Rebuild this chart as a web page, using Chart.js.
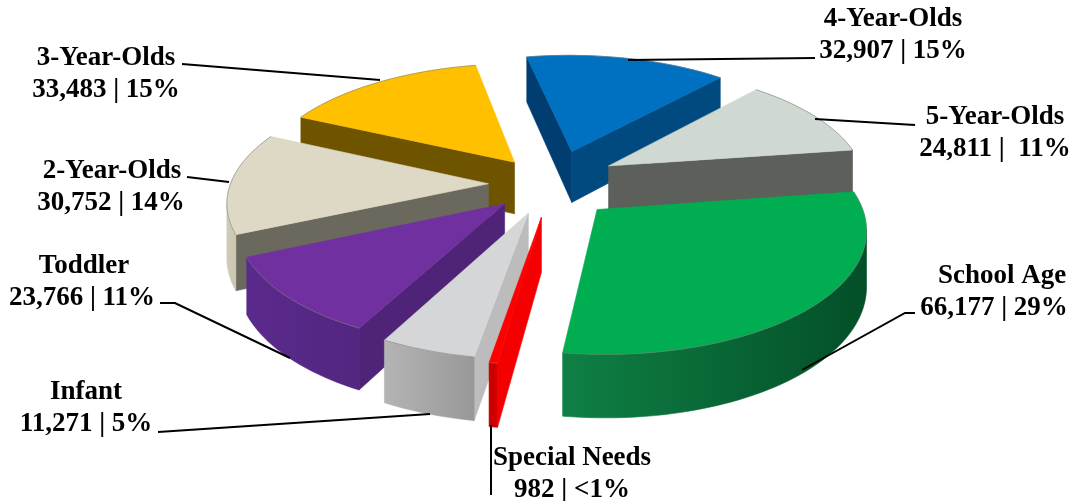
<!DOCTYPE html>
<html>
<head>
<meta charset="utf-8">
<title>Children served by age group</title>
<script src="https://cdn.jsdelivr.net/npm/chart.js@4/dist/chart.umd.min.js"></script>
<style>
  html, body { margin: 0; padding: 0; background: #fff; }
  canvas { display: block; }
</style>
</head>
<body>
<canvas id="pie" width="1074" height="501"></canvas>
<script>
const categories = ['4-Year-Olds', '5-Year-Olds', 'School Age', 'Special Needs', 'Infant', 'Toddler', '2-Year-Olds', '3-Year-Olds'];
const children = [32907, 24811, 66177, 982, 11271, 23766, 30752, 33483];
const shares = ['15%', ' 11%', '29%', '<1%', '5%', '11%', '14%', '15%'];

// slice styling, same order as categories
const topColors = ['#0070c0', '#d0d9d1', '#00ad50', '#ff0000', '#d5d6d7', '#7030a0', '#ded9c5', '#ffc000'];
const startWalls = ['#003d70', '#5d5f5a', '#006a35', '#f50000', '#bcbcbc', '#4f2478', '#6b685d', '#6f5400'];
const endWalls = ['#004a80', '#5d5f5a', '#006a35', '#c80000', '#bcbcbc', '#4f2478', '#6b685d', '#6f5400'];
const outerWalls = [['#004a80', '#004a80'], ['#8d918c', '#8d918c'], ['#0f8045', '#034f28'], ['#c00000', '#d80000'], ['#b4b4b4', '#989898'], ['#5a2a8c', '#532680'], ['#cfcab5', '#bdb9a4'], ['#7f6000', '#7f6000']];
const explode = [52, 58, 52, 48, 44, 42, 40, 42];
const drift = [10, -1, 3, 6, 2, 0, -5, 2];

// where the text sits: centre x of each line, first baseline
const labelSpots = [[893, 26, 893], [995, 124, 995], [1002, 283, 994], [572, 465, 572], [86, 399, 86], [84, 273, 82], [112, 178, 111], [106, 65, 106]];
const leaders = [
  [[815, 58], [628, 60]],
  [[915, 125], [815, 119]],
  [[915, 313], [905, 313], [802, 370]],
  [[491, 425], [491, 495]],
  [[158, 432], [430, 414]],
  [[160, 303], [175, 303], [290, 358]],
  [[187, 177], [229, 182]],
  [[182, 64], [380, 80]]
];

// fake 3D view of the flat pie
const view = { cx: 545, cy: 184, k: 258, a: 135, p: 0.157, depth: 53, squash: 0.87 };

function project(x, y, down) {
  const w = 1 / (1 - y * view.p);
  return { x: view.cx + view.k * x * w, y: view.cy + view.a * y * w + (down ? view.depth * w : 0) };
}

function fillPoly(ctx, pts, color) {
  ctx.beginPath();
  pts.forEach((p, i) => i ? ctx.lineTo(p.x, p.y) : ctx.moveTo(p.x, p.y));
  ctx.closePath();
  ctx.fillStyle = color;
  ctx.fill();
  ctx.strokeStyle = color;
  ctx.lineWidth = 0.6;
  ctx.stroke();
}

function quadArea(a, b) {
  const pts = [project(a.x, a.y), project(b.x, b.y), project(b.x, b.y, true), project(a.x, a.y, true)];
  let sum = 0;
  pts.forEach((p, i) => {
    const q = pts[(i + 1) % 4];
    sum += p.x * q.y - q.x * p.y;
  });
  return { pts, sum };
}

function drawSlice(ctx, arc, i) {
  const off = arc.options.offset / 200;
  const mid = (arc.startAngle + arc.endAngle) / 2;
  const ox = Math.cos(mid) * off + drift[i] / view.k;
  const oy = Math.sin(mid) * off;
  const apex = { x: ox, y: oy };
  const rim = [];
  const steps = Math.max(4, Math.ceil((arc.endAngle - arc.startAngle) / 0.03));
  for (let s = 0; s <= steps; s++) {
    const t = arc.startAngle + (arc.endAngle - arc.startAngle) * s / steps;
    rim.push({ x: ox + Math.cos(t), y: oy + Math.sin(t) * view.squash });
  }

  // walls first, only those turned towards the viewer
  const first = quadArea(apex, rim[0]);
  if (first.sum < 0) fillPoly(ctx, first.pts, startWalls[i]);
  const last = quadArea(rim[rim.length - 1], apex);
  if (last.sum < 0) fillPoly(ctx, last.pts, endWalls[i]);

  const xs = rim.map(p => project(p.x, p.y).x);
  const grad = ctx.createLinearGradient(Math.min(...xs), 0, Math.max(...xs), 0);
  grad.addColorStop(0, outerWalls[i][0]);
  grad.addColorStop(1, outerWalls[i][1]);
  let run = [];
  const flush = () => {
    if (run.length > 1) {
      const upper = run.map(p => project(p.x, p.y));
      const lower = run.map(p => project(p.x, p.y, true)).reverse();
      fillPoly(ctx, [...upper, ...lower], grad);
    }
    run = [];
  };
  for (let s = 0; s < rim.length - 1; s++) {
    if (quadArea(rim[s], rim[s + 1]).sum < 0) {
      if (!run.length) run.push(rim[s]);
      run.push(rim[s + 1]);
    } else {
      flush();
    }
  }
  flush();

  // top face
  const top = [apex, ...rim].map(p => project(p.x, p.y));
  fillPoly(ctx, top, topColors[i]);

  ctx.beginPath();
  rim.forEach((p, n) => {
    const q = project(p.x, p.y);
    n ? ctx.lineTo(q.x, q.y) : ctx.moveTo(q.x, q.y);
  });
  ctx.strokeStyle = 'rgba(120,120,120,0.55)';
  ctx.lineWidth = 1;
  ctx.stroke();
}

const piePerspective = {
  id: 'piePerspective',
  beforeDatasetDraw(chart) {
    const ctx = chart.ctx;
    const arcs = chart.getDatasetMeta(0).data;
    const order = arcs.map((arc, i) => {
      const mid = (arc.startAngle + arc.endAngle) / 2;
      return { arc, i, y: Math.sin(mid) * (0.6 + arc.options.offset / 200) };
    }).sort((a, b) => a.y - b.y);
    order.forEach(o => drawSlice(ctx, o.arc, o.i));
    return false;
  },
  afterDatasetsDraw(chart) {
    const ctx = chart.ctx;
    ctx.save();
    ctx.strokeStyle = '#000';
    ctx.lineWidth = 2;
    leaders.forEach(line => {
      ctx.beginPath();
      line.forEach((p, n) => n ? ctx.lineTo(p[0], p[1]) : ctx.moveTo(p[0], p[1]));
      ctx.stroke();
    });
    ctx.fillStyle = '#000';
    ctx.font = 'bold 27px "Liberation Serif"';
    ctx.textAlign = 'center';
    ctx.textBaseline = 'alphabetic';
    categories.forEach((name, i) => {
      const [x, y, x2] = labelSpots[i];
      ctx.fillText(name, x, y);
      ctx.fillText(children[i].toLocaleString('en-US') + ' | ' + shares[i], x2, y + 32);
    });
    ctx.restore();
  }
};

new Chart(document.getElementById('pie'), {
  type: 'pie',
  data: {
    labels: categories,
    datasets: [{ data: children, backgroundColor: topColors, offset: explode, borderWidth: 0 }]
  },
  options: {
    responsive: false,
    animation: false,
    rotation: -11,
    plugins: { legend: { display: false }, tooltip: { enabled: false } }
  },
  plugins: [piePerspective]
});
</script>
</body>
</html>
